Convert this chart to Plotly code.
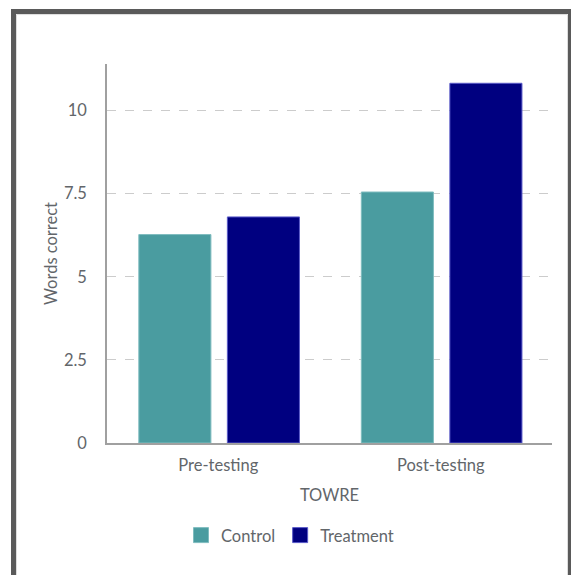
import plotly.graph_objects as go

# TOWRE words-correct scores by testing phase
phases = ["Pre-testing", "Post-testing"]
control = [6.27, 7.55]
treatment = [6.8, 10.82]
y_ticks = [0, 2.5, 5, 7.5, 10]
y_tick_text = ["0", "2.5", "5", "7.5", "10"]

FONT = "Lato, 'Open Sans', sans-serif"
TEXT = "#62666a"
FS = 16.5
C_CONTROL = "#4a9ca0"
C_TREAT = "#000080"

fig = go.Figure()
fig.add_trace(go.Bar(
    name="Control", x=phases, y=control,
    width=0.324, offset=-0.357, showlegend=False,
    marker=dict(color=C_CONTROL, line=dict(color="#7fbcbf", width=1)),
))
fig.add_trace(go.Bar(
    name="Treatment", x=phases, y=treatment,
    width=0.324, offset=0.041, showlegend=False,
    marker=dict(color=C_TREAT, line=dict(color="#5a5ac8", width=1)),
))
# legend entries with larger square swatches
for name, col, edge in [("Control", C_CONTROL, "#7fbcbf"), ("Treatment", C_TREAT, "#5a5ac8")]:
    fig.add_trace(go.Scatter(
        name=name, x=[None], y=[None], mode="markers",
        marker=dict(symbol="square", size=15, color=col, line=dict(color=edge, width=1)),
    ))

# plot area: x 107..552 px, y 64..443.5 px
L, R, T, B = 107, 552, 64, 443.5
W, H = R - L, B - T


def px(x):
    return (x - L) / W


def py(y):
    return (B - y) / H


fig.update_layout(
    width=571, height=575,
    margin=dict(l=L, r=571 - R, t=T, b=575 - B),
    paper_bgcolor="white", plot_bgcolor="white",
    barmode="overlay",
    font=dict(family=FONT, size=FS, color=TEXT),
    showlegend=True,
    legend=dict(
        orientation="h", x=px(290), y=py(536),
        xanchor="center", yanchor="middle",
        font=dict(size=FS, color=TEXT), itemwidth=30,
    ),
    xaxis=dict(
        range=[-0.5, 1.5],
        showline=True, linecolor="#a0a0a0", linewidth=2,
        showgrid=False, ticks="", ticklabelstandoff=6,
        tickfont=dict(size=FS, color=TEXT),
        title=dict(text="TOWRE", standoff=16, font=dict(size=FS, color=TEXT)),
    ),
    yaxis=dict(
        range=[0, 11.4],
        tickvals=y_ticks, ticktext=y_tick_text,
        showline=True, linecolor="#a0a0a0", linewidth=1.5,
        showgrid=True, gridcolor="#cccccc", griddash="dash", gridwidth=1,
        zeroline=False, ticks="", ticklabelstandoff=15,
        tickfont=dict(size=FS, color=TEXT),
        title=dict(text="Words correct", standoff=2, font=dict(size=FS, color=TEXT)),
    ),
    shapes=[
        # outer card frame
        dict(type="rect", xref="paper", yref="paper", layer="above",
             x0=px(13.5), x1=px(570.5), y0=py(590), y1=py(11.5),
             line=dict(color="#5a5a5a", width=5), fillcolor="rgba(0,0,0,0)"),
        dict(type="rect", xref="paper", yref="paper", layer="above",
             x0=px(16.5), x1=px(567.5), y0=py(590), y1=py(14.5),
             line=dict(color="#dddddd", width=1), fillcolor="rgba(0,0,0,0)"),
    ],
)

fig.write_html("out.html")
